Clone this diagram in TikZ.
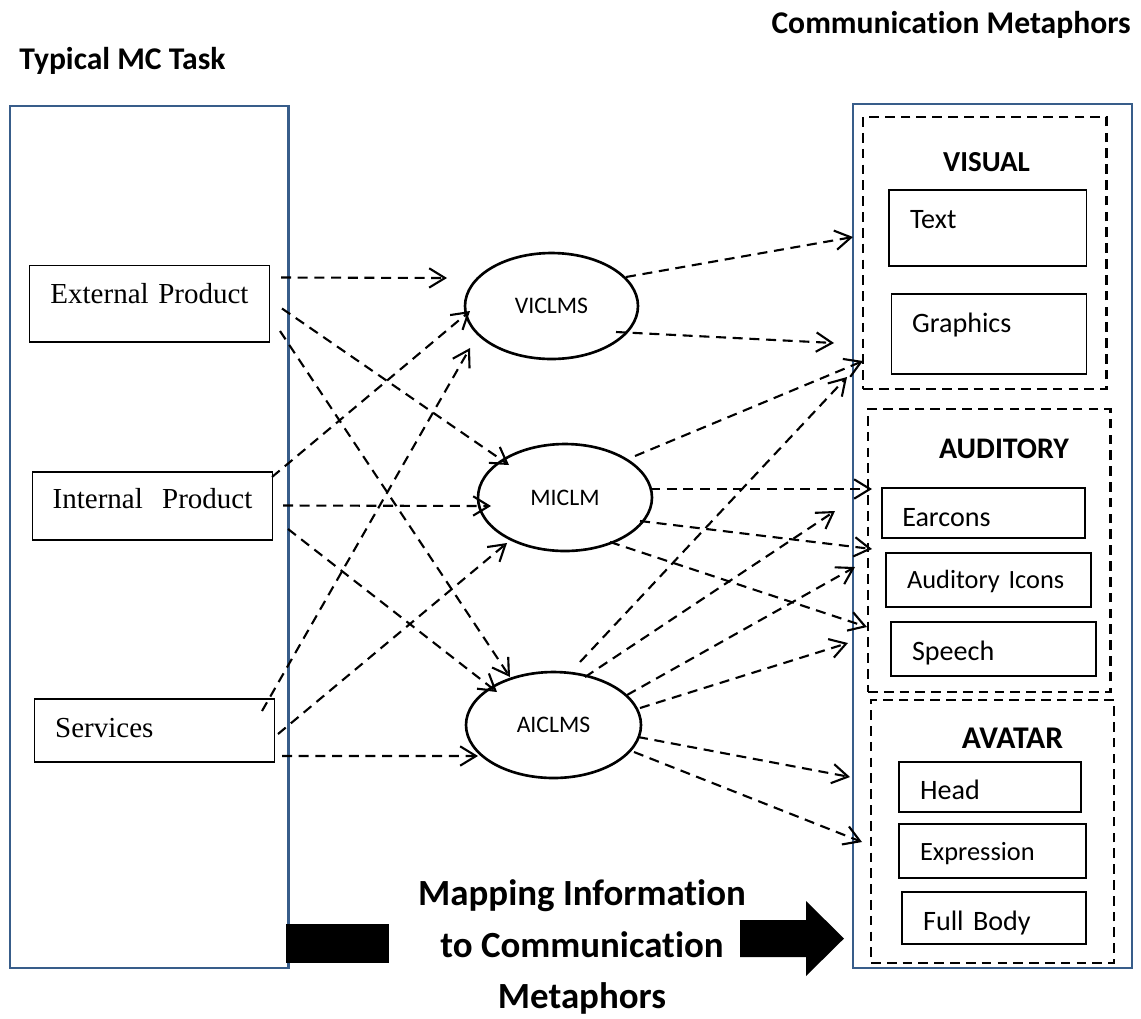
\documentclass[tikz,border=0pt]{standalone}
\usepackage{fontspec}
\setmainfont{Carlito}[Ligatures=NoCommon]
\newfontfamily\timesfont{Liberation Serif}
\usetikzlibrary{arrows.meta, shapes.geometric, calc}
\definecolor{panelblue}{HTML}{385D8A}

\begin{document}
\begin{tikzpicture}[x=0.02cm, y=-0.02cm,
        panel/.style={draw=panelblue, line width=1.2pt, inner sep=0pt},
        group/.style={draw, line width=1.4pt, dash pattern=on 5.5pt off 3.5pt, inner sep=0pt},
        item/.style={draw, line width=0.7pt, inner xsep=11.5pt, inner ysep=0pt, align=left, font=\fontsize{16}{19}\selectfont},
        source/.style={item, font=\timesfont\fontsize{16.5}{19}\selectfont},
        layer/.style={draw, ellipse, line width=1.5pt, inner sep=0pt, font=\fontsize{13.5}{15}\selectfont},
        heading/.style={font=\bfseries\fontsize{18}{21}\selectfont, inner sep=0pt},
        grouptitle/.style={font=\bfseries\fontsize{#1}{20}\selectfont, inner sep=0pt},
        flow/.style={line width=1.2pt, dash pattern=on 5.7pt off 3.8pt, -{Straight Barb[length=9pt, width=11pt]}}]
    \useasboundingbox (0,0) rectangle (1141,1018);

    % titles and the two frames
    \node[heading, anchor=base west] (tasktitle) at (19,69) {Typical MC Task};
    \node[heading, anchor=base east] (metatitle) at (1131,33) {Communication Metaphors};
    \node[panel, minimum width=5.57cm, minimum height=17.25cm] (task) at (149.25,536.75) {};
    \node[panel, minimum width=5.58cm, minimum height=17.28cm] (meta) at (992.5,536) {};

    % task items
    \node[source, align=center, text width=114pt, text height=21.4pt, text depth=22.1pt] (ext) at (149.5,303.75) {External Product};
    \node[source, align=center, text width=114pt, text height=20.6pt, text depth=18.1pt] (int) at (152.5,506) {Internal\ \ Product};
    \node[source, text width=113pt, inner xsep=12pt, text height=21.7pt, text depth=14.15pt] (serv) at (154.5,730.5) {Services};

    % mapping layers
    \node[layer, minimum width=3.46cm, minimum height=2.12cm] (vic) at (551.5,306) {VICLMS};
    \node[layer, minimum width=3.48cm, minimum height=2.14cm] (mic) at (565,497.5) {MICLM};
    \node[layer, minimum width=3.5cm, minimum height=2.12cm] (aic) at (553.5,725) {AICLMS};

    % metaphors
    \node[group, minimum width=4.87cm, minimum height=5.44cm] (visual) at (984.75,253) {};
    \node[grouptitle=16.5, anchor=base] (visualtitle) at (986.5,171) {VISUAL};
    \node[item, text width=88.5pt, inner xsep=12pt, text height=22pt, text depth=21.2pt] (text) at (987.75,228) {Text};
    \node[item, text width=87.6pt, text height=22pt, text depth=23.5pt] (graphics) at (989,334) {Graphics};

    \node[group, minimum width=4.85cm, minimum height=5.66cm] (audit) at (989.25,550.5) {};
    \node[grouptitle=17, anchor=base] (audittitle) at (1004,458) {AUDITORY};
    \node[item, text width=92.5pt, text height=22pt, text depth=6.45pt] (earcons) at (983.5,513) {Earcons};
    \node[item, text width=92.7pt, inner xsep=12pt, font=\fontsize{15}{18}\selectfont, text height=20.3pt, text depth=10.4pt] (icons) at (988.5,580) {Auditory Icons};
    \node[item, text width=92.7pt, inner xsep=12pt, text height=22pt, text depth=8.7pt] (speech) at (993.5,649) {Speech};

    \node[group, minimum width=4.86cm, minimum height=5.26cm] (avatar) at (992.5,831.5) {};
    \node[grouptitle=18, anchor=base] (avatartitle) at (1012.5,748) {AVATAR};
    \node[item, text width=79.6pt, inner xsep=12pt, text height=21.5pt, text depth=6.95pt] (head) at (990,787) {Head};
    \node[item, text width=82.4pt, inner xsep=12pt, font=\fontsize{15}{18}\selectfont, text height=20.9pt, text depth=9.8pt] (expr) at (992.5,851) {Expression};
    \node[item, text width=80.7pt, inner xsep=12pt, text height=22pt, text depth=7.6pt] (body) at (994,918) {Full Body};

    % task -> layers
    \draw[flow] ($(ext)+(131.5,-26.25)$) -- ($(vic)+(-104.5,-28)$);
    \draw[flow] ($(ext)+(132.5,4.75)$) -- ($(mic)+(-56,-32.5)$);
    \draw[flow] ($(ext)+(130.5,27.25)$) -- ($(aic)+(-43.5,-48)$);
    \draw[flow] ($(int)+(119.5,-29)$) -- ($(vic)+(-81.5,5)$);
    \draw[flow] ($(int)+(130.5,-0.5)$) -- ($(mic)+(-74,8.5)$);
    \draw[flow] ($(int)+(135.5,23)$) -- ($(aic)+(-56.5,-33)$);
    \draw[flow] ($(serv)+(107.5,-19.5)$) -- ($(vic)+(-81.5,42)$);
    \draw[flow] ($(serv)+(123.5,3.5)$) -- ($(mic)+(-58,45.5)$);
    \draw[flow] ($(serv)+(127.5,25.5)$) -- ($(aic)+(-75.5,31)$);

    % layers -> metaphors
    \draw[flow] ($(vic)+(74.5,-29)$) -- ($(visual)+(-131.75,-16)$);
    \draw[flow] ($(vic)+(64.5,26)$) -- ($(visual)+(-150.75,90)$);
    \draw[flow] ($(mic)+(70,-41.5)$) -- ($(visual)+(-121.75,108)$);
    \draw[flow] ($(mic)+(85,-8.5)$) -- ($(audit)+(-117.25,-61.5)$);
    \draw[flow] ($(mic)+(75,23.5)$) -- ($(audit)+(-117.25,-1.5)$);
    \draw[flow] ($(mic)+(45,44.5)$) -- ($(audit)+(-122.25,76.5)$);
    \draw[flow] ($(aic)+(26.5,-63)$) -- ($(visual)+(-137.75,124)$);
    \draw[flow] ($(aic)+(31.5,-48)$) -- ($(audit)+(-154.25,-39.5)$);
    \draw[flow] ($(aic)+(73.5,-30)$) -- ($(audit)+(-134.25,16.5)$);
    \draw[flow] ($(aic)+(86.5,-17)$) -- ($(audit)+(-141.25,92.5)$);
    \draw[flow] ($(aic)+(84.5,12)$) -- ($(avatar)+(-142.5,-54.5)$);
    \draw[flow] ($(aic)+(80.5,27)$) -- ($(avatar)+(-130.5,10.5)$);

    % bottom block arrow
    \fill (286,924) rectangle (389,963);
    \fill (740,920) -- (806,920) -- (806,901) -- (844,938.5) -- (806,976) -- (806,957) -- (740,957) -- cycle;
    \node[font=\bfseries\fontsize{21}{29.5}\selectfont, align=center, inner sep=0pt] (mapping) at (582,947) {Mapping Information\\to Communication\\Metaphors};
\end{tikzpicture}
\end{document}
